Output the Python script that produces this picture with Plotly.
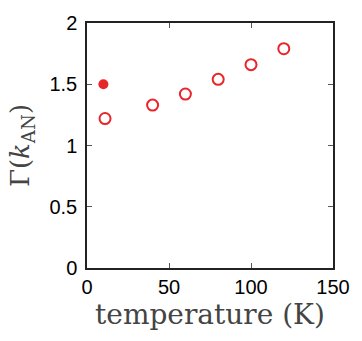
import plotly.graph_objects as go

temp_open = [11, 40, 60, 80, 100, 120]
gamma_open = [1.22, 1.33, 1.42, 1.54, 1.66, 1.79]
temp_filled = [10]
gamma_filled = [1.50]

x_ticks = [0, 50, 100, 150]
y_ticks = [0, 0.5, 1, 1.5, 2]
y_tick_text = ["0", "0.5", "1", "1.5", "2"]

red = "#e8262a"

fig = go.Figure()
fig.add_trace(go.Scatter(x=temp_open, y=gamma_open, mode="markers",
                         marker=dict(symbol="circle-open", size=11, color=red,
                                     line=dict(width=2, color=red)),
                         showlegend=False))
fig.add_trace(go.Scatter(x=temp_filled, y=gamma_filled, mode="markers",
                         marker=dict(symbol="circle", size=10, color=red),
                         showlegend=False))

axis_common = dict(showline=True, linecolor="#222", linewidth=1.5, mirror="ticks",
                   ticks="inside", ticklen=5, tickwidth=1, tickcolor="#555",
                   showgrid=False, zeroline=False,
                   tickfont=dict(family="Liberation Sans, Arial", size=20, color="black"))

fig.update_layout(
    width=362, height=341,
    margin=dict(l=87, r=19, t=13, b=73),
    paper_bgcolor="white", plot_bgcolor="white",
    xaxis=dict(range=[0, 150], tickvals=x_ticks, ticktext=[str(v) for v in x_ticks],
               title=dict(text="temperature (K)", standoff=5,
                          font=dict(family="DejaVu Serif", size=28, color="#444")),
               **axis_common),
    yaxis=dict(range=[0, 2], tickvals=y_ticks, ticktext=y_tick_text,
               ticklabelstandoff=4,
               title=dict(text="Γ(<i>k</i><sub>AN</sub>)", standoff=12,
                          font=dict(family="DejaVu Serif", size=26, color="#444")),
               **axis_common),
)

fig.write_html("out.html")
